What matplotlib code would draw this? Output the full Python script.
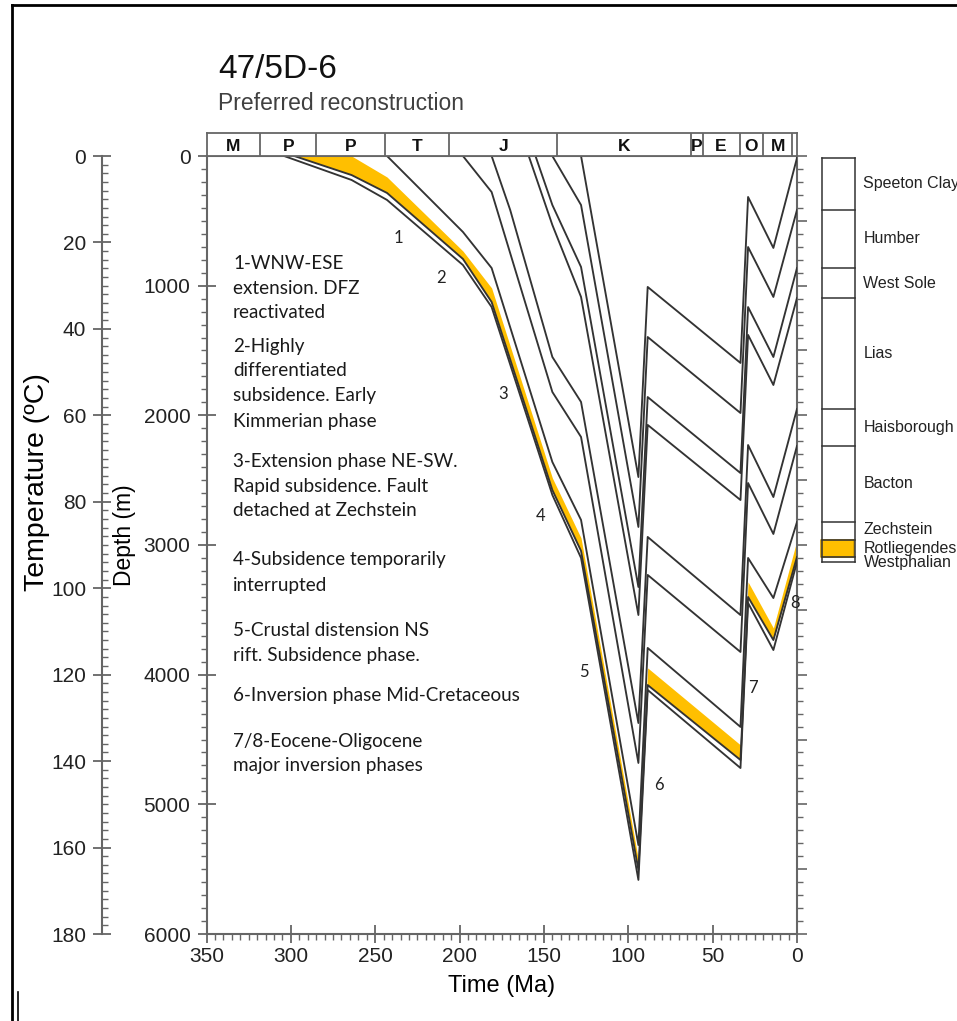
import numpy as np
import matplotlib
matplotlib.use('Agg')
import matplotlib.pyplot as plt
from matplotlib.ticker import MultipleLocator
from matplotlib.lines import Line2D

plt.rcParams['font.family'] = ['Liberation Sans', 'DejaVu Sans']

# burial history of each horizon, age (Ma) and depth (m), oldest horizon first
base_westphalian_age = [304, 264, 243, 198, 181, 145, 128, 94, 88.5, 33.5, 29, 14, 0]
base_westphalian_depth = [0, 185, 339, 841, 1165, 2614, 3100, 5583, 4118, 4720, 3447, 3810, 3131]

base_rotliegendes_age = [298, 264, 243, 198, 181, 145, 128, 94, 88.5, 33.5, 29, 14, 0]
base_rotliegendes_depth = [0, 147, 285, 794, 1126, 2576, 3046, 5506, 4080, 4658, 3401, 3733, 3092]

base_zechstein_age = [296, 264, 243, 198, 181, 145, 128, 94, 88.5, 33.5, 29, 14, 0]
base_zechstein_depth = [0, 0, 162, 733, 1018, 2483, 2946, 5429, 3948, 4542, 3285, 3640, 2962]

base_bacton_age = [243, 198, 181, 145, 128, 94, 88.5, 33.5, 29, 14, 0]
base_bacton_depth = [0, 586, 864, 2360, 2807, 5314, 3794, 4403, 3100, 3409, 2823]

base_haisborough_age = [198, 181, 145, 128, 94, 88.5, 33.5, 29, 14, 0]
base_haisborough_depth = [0, 278, 1820, 2167, 4681, 3231, 3825, 2522, 2915, 2236]

base_lias_age = [181, 170, 145, 128, 94, 88.5, 33.5, 29, 14, 0]
base_lias_depth = [0, 416, 1550, 1897, 4373, 2938, 3540, 2229, 2630, 1951]

base_westsole_age = [159, 145, 128, 94, 88.5, 33.5, 29, 14, 0]
base_westsole_depth = [0, 532, 1087, 3540, 2074, 2653, 1380, 1766, 1095]

base_humber_age = [155, 145, 128, 94, 88.5, 33.5, 29, 14, 0]
base_humber_depth = [0, 378, 856, 3324, 1859, 2445, 1165, 1550, 864]

base_speeton_age = [145, 128, 94, 88.5, 33.5, 29, 14, 0]
base_speeton_depth = [0, 378, 2861, 1396, 1982, 702, 1087, 416]

top_speeton_age = [128, 94, 88.5, 33.5, 29, 14, 0]
top_speeton_depth = [0, 2476, 1010, 1596, 316, 709, 15]

# formations between horizons (legend column, top to bottom)
formations = ['Speeton Clay', 'Humber', 'West Sole', 'Lias', 'Haisborough',
              'Bacton', 'Zechstein', 'Rotliegendes', 'Westphalian']

# chronostratigraphic bar
period_edges = [350, 318, 285, 244, 206, 142, 63, 56, 34, 20, 3, 0]
period_labels = ['M', 'P', 'P', 'T', 'J', 'K', 'P', 'E', 'O', 'M', '']

# tectonic phase numbers and their text
phase_numbers = ['1', '2', '3', '4', '5', '6', '7', '8']
phase_age = [236, 211, 174, 152, 126, 82, 26.3, 0.9]
phase_depth = [632, 941, 1835, 2776, 3979, 4851, 4103, 3447]
notes = [
    ['1-WNW-ESE', 'extension. DFZ', 'reactivated'],
    ['2-Highly', 'differentiated', 'subsidence. Early', 'Kimmerian phase'],
    ['3-Extension phase NE-SW.', 'Rapid subsidence. Fault', 'detached at Zechstein'],
    ['4-Subsidence temporarily', 'interrupted'],
    ['5-Crustal distension NS', 'rift. Subsidence phase.'],
    ['6-Inversion phase Mid-Cretaceous'],
    ['7/8-Eocene-Oligocene', 'major inversion phases'],
]
note_top = [263, 346, 461, 560, 630, 696, 741]

horizons = [
    (base_westphalian_age, base_westphalian_depth),
    (base_rotliegendes_age, base_rotliegendes_depth),
    (base_zechstein_age, base_zechstein_depth),
    (base_bacton_age, base_bacton_depth),
    (base_haisborough_age, base_haisborough_depth),
    (base_lias_age, base_lias_depth),
    (base_westsole_age, base_westsole_depth),
    (base_humber_age, base_humber_depth),
    (base_speeton_age, base_speeton_depth),
    (top_speeton_age, top_speeton_depth),
]

W, H = 957, 1021
fig = plt.figure(figsize=(W / 100, H / 100), dpi=100)


def fx(px):
    return px / W


def fy(py):
    return 1 - py / H


GREY = '#666666'
LINE = '#333333'
YELLOW = '#FFBF00'

left, right, top, bottom = 206.5, 797, 156, 934
ax = fig.add_axes([fx(left), fy(bottom), fx(right - left), (bottom - top) / H])
ax.set_xlim(350, 0)
ax.set_ylim(6000, 0)

# yellow Rotliegendes layer
grid = sorted(set(base_rotliegendes_age + base_zechstein_age))
grid = np.array([g for g in grid if g <= base_zechstein_age[0]])
d_top = np.interp(grid, base_zechstein_age[::-1], base_zechstein_depth[::-1])
d_bot = np.interp(grid, base_rotliegendes_age[::-1], base_rotliegendes_depth[::-1])
ax.fill_between(grid, d_top, d_bot, color=YELLOW, lw=0, zorder=2)

for i, (ages, depths) in enumerate(horizons):
    if i == 2:
        continue
    ax.plot(ages, depths, color=LINE, lw=1.35, zorder=3)

for sp in ax.spines.values():
    sp.set_color(GREY)
    sp.set_linewidth(1.5)

ax.xaxis.set_major_locator(MultipleLocator(50))
ax.xaxis.set_minor_locator(MultipleLocator(5))
ax.yaxis.set_major_locator(MultipleLocator(1000))
ax.yaxis.set_minor_locator(MultipleLocator(100))
ax.tick_params(axis='both', which='major', direction='inout', length=13, width=1.3,
               color=GREY, labelsize=15, labelcolor='#222222')
ax.tick_params(axis='both', which='minor', direction='out', length=4, width=1, color=GREY)
ax.tick_params(axis='x', which='major', pad=3)
ax.tick_params(axis='y', which='major', pad=5)
ax.set_xlabel('Time (Ma)', fontsize=17, labelpad=6)
ax.set_ylabel('Depth (m)', fontsize=16.5)
ax.yaxis.set_label_coords((136 - left) / (right - left), 1 - (535 - top) / (bottom - top))

# right-hand depth ticks
ax_r = ax.twinx()
ax_r.set_ylim(6000, 0)
ax_r.yaxis.set_major_locator(MultipleLocator(500))
ax_r.yaxis.set_minor_locator(MultipleLocator(100))
ax_r.tick_params(axis='y', which='major', direction='out', length=7, width=1.2,
                 color=GREY, labelright=False)
ax_r.tick_params(axis='y', which='minor', direction='out', length=4, width=1, color=GREY)
for sp in ax_r.spines.values():
    sp.set_visible(False)

# temperature axis
t_width = 4
ax_t = fig.add_axes([fx(102), fy(bottom), fx(t_width), (bottom - top) / H])
ax_t.set_ylim(180, 0)
ax_t.patch.set_visible(False)
for name in ['top', 'right', 'bottom']:
    ax_t.spines[name].set_visible(False)
ax_t.spines['left'].set_color(GREY)
ax_t.spines['left'].set_linewidth(1.5)
ax_t.set_xticks([])
ax_t.yaxis.set_major_locator(MultipleLocator(20))
ax_t.yaxis.set_minor_locator(MultipleLocator(2))
ax_t.tick_params(axis='y', which='major', direction='inout', length=13, width=1.3,
                 color=GREY, labelsize=15, labelcolor='#222222', pad=5)
ax_t.tick_params(axis='y', which='minor', direction='in', length=4, width=1, color=GREY)
ax_t.set_ylabel('Temperature (ºC)', fontsize=20.5)
ax_t.yaxis.set_label_coords((50 - 102) / t_width, 1 - (482 - top) / (bottom - top))

# period bar
ax_b = fig.add_axes([fx(left), fy(top), fx(right - left), 23 / H])
ax_b.set_xlim(350, 0)
ax_b.set_ylim(0, 1)
ax_b.set_xticks([])
ax_b.set_yticks([])
for sp in ax_b.spines.values():
    sp.set_color(GREY)
    sp.set_linewidth(1.3)
for e in period_edges[1:-1]:
    ax_b.axvline(e, color=GREY, lw=1.3)
for a, b, lab in zip(period_edges[:-1], period_edges[1:], period_labels):
    ax_b.text((a + b) / 2, 0.42, lab, ha='center', va='center', fontsize=12.5,
              fontweight='bold', color='#111111')

# present-day column
present = [d[-1] for _, d in horizons]
col_l, col_r = -15.0, -34.2
ax.fill_between([-14.0, -33.6], present[2], present[1], color=YELLOW,
                edgecolor='#D09A00', lw=1.2, clip_on=False, zorder=2)
for d in present:
    ax.plot([col_l, col_r], [d, d], color=LINE, lw=1.1, clip_on=False, zorder=3)
for c in (col_l, col_r):
    ax.plot([c, c], [present[-1], present[0]], color=LINE, lw=1.1, clip_on=False, zorder=3)
label_shift = [0, 0, 0, 0, 0, 0, -14, 0, 20]
for k, name in enumerate(formations):
    upper = present[9 - k]
    lower = present[8 - k]
    ax.text(-39.4, (upper + lower) / 2 + label_shift[k], name, ha='left', va='center',
            fontsize=11.5, color='#222222', clip_on=False)

# phase numbers on the curves
for n, a, d in zip(phase_numbers, phase_age, phase_depth):
    ax.text(a, d, n, ha='center', va='center', fontsize=12, color='#222222',
            family=['Lato', 'DejaVu Sans'])

# phase notes
for lines, y0 in zip(notes, note_top):
    for j, line in enumerate(lines):
        fig.text(fx(233), fy(y0 + 25 * j), line, ha='left', va='center', fontsize=13.6,
                 color='#1a1a1a', family=['Lato', 'DejaVu Sans'])

# title
fig.text(fx(218), fy(70), '47/5D-6', ha='left', va='center', fontsize=24, color='#111111')
fig.text(fx(218), fy(103), 'Preferred reconstruction', ha='left', va='center',
         fontsize=16.5, color='#404040')

# page frame
fig.add_artist(Line2D([fx(12), fx(957)], [fy(5), fy(5)], color='black', lw=2))
fig.add_artist(Line2D([fx(12), fx(12)], [fy(5), fy(1021)], color='black', lw=2))
fig.add_artist(Line2D([fx(18), fx(18)], [fy(992), fy(1021)], color='black', lw=1.2))

fig.savefig('out.png', dpi=100)
